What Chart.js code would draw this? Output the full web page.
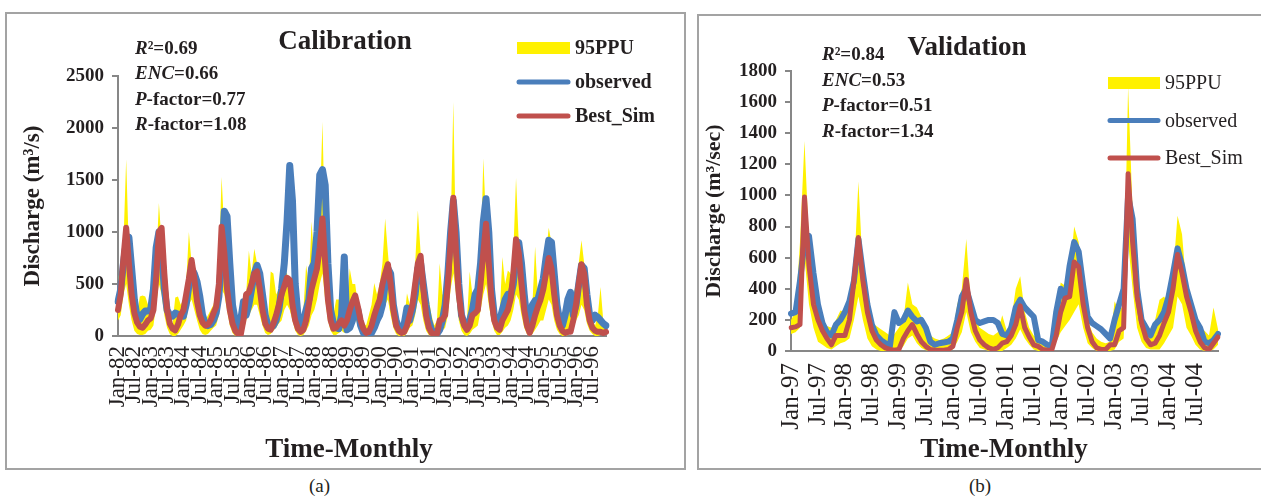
<!DOCTYPE html>
<html>
<head>
<meta charset="utf-8">
<script src="https://cdn.jsdelivr.net/npm/chart.js@4.4.1/dist/chart.umd.min.js"></script>
<style>
  body { margin: 0; background: #fff; width: 1261px; height: 500px; overflow: hidden; position: relative; font-family: "Liberation Serif", serif; }
  .panel { position: absolute; border: 2px solid #a3a3a3; box-sizing: border-box; }
  #pa { left: 5px; top: 12px; width: 681px; height: 458px; }
  #pb { left: 697px; top: 14px; width: 575px; height: 456px; }
  canvas { position: absolute; left: 0; top: 0; }
  .cap { position: absolute; top: 475px; font-size: 19px; color: #231f20; }
</style>
</head>
<body>
<div class="panel" id="pa"><canvas id="ca" width="677" height="454"></canvas></div>
<div class="panel" id="pb"><canvas id="cb" width="562" height="452"></canvas></div>
<div class="cap" style="left:309px">(a)</div>
<div class="cap" style="left:969px">(b)</div>
<script>
// months / years
const monthNames = ['Jan','Feb','Mar','Apr','May','Jun','Jul','Aug','Sep','Oct','Nov','Dec'];
const tickMonths = ['Jan','Jul'];
const yearsA = ['82','83','84','85','86','87','88','89','90','91','92','93','94','95','96'];
const yearsB = ['97','98','99','00','01','02','03','04'];
const monthsA = yearsA.flatMap(y => monthNames.map(m => m + '-' + y));
const monthsB = yearsB.flatMap(y => monthNames.map(m => m + '-' + y));

const yTicksA = [0, 500, 1000, 1500, 2000, 2500];
const yTicksB = [0, 200, 400, 600, 800, 1000, 1200, 1400, 1600, 1800];

// Calibration 1982-1996 (m3/s), one row per year
const observedA = [
  330, 450, 700, 900, 950, 650, 350, 180, 160, 210, 240, 240,
  260, 450, 850, 1000, 800, 450, 250, 200, 190, 220, 210, 200,
  190, 300, 480, 650, 600, 520, 380, 200, 120, 100, 110, 150,
  220, 380, 750, 1200, 1150, 700, 300, 150, 80, 150, 330, 200,
  300, 450, 600, 680, 600, 400, 200, 100, 80, 100, 150, 250,
  450, 700, 1100, 1640, 1300, 500, 200, 100, 150, 250, 350, 650,
  700, 1000, 1550, 1600, 1450, 700, 250, 120, 80, 70, 200, 760,
  60, 80, 150, 300, 250, 100, 30, 10, 10, 30, 80, 150,
  200, 300, 500, 650, 600, 300, 150, 80, 40, 120, 270, 150,
  250, 400, 650, 700, 500, 300, 150, 60, 30, 20, 60, 150,
  300, 600, 1000, 1300, 1000, 500, 200, 120, 100, 150, 250, 400,
  450, 700, 1100, 1320, 1000, 450, 200, 120, 150, 250, 350, 400,
  380, 500, 750, 900, 700, 400, 150, 60, 300, 340, 350, 450,
  550, 750, 920, 900, 600, 300, 150, 100, 200, 350, 420, 200,
  300, 500, 680, 650, 400, 200, 150, 200, 180, 150, 120, 100
];
const bestSimA = [
  250, 400, 750, 1040, 700, 400, 220, 130, 90, 80, 110, 150,
  170, 250, 550, 1000, 1040, 600, 250, 120, 70, 55, 110, 200,
  250, 400, 550, 730, 550, 330, 200, 130, 100, 110, 150, 220,
  280, 500, 1050, 800, 450, 250, 120, 50, 20, 10, 150, 400,
  420, 500, 600, 620, 450, 250, 120, 70, 60, 120, 200, 300,
  400, 480, 560, 540, 300, 150, 70, 40, 60, 150, 300, 450,
  550, 650, 850, 1130, 700, 350, 150, 70, 80, 120, 150, 100,
  150, 250, 330, 390, 280, 150, 70, 30, 40, 100, 200, 280,
  350, 500, 600, 690, 500, 250, 100, 50, 30, 40, 100, 200,
  300, 500, 700, 770, 450, 200, 80, 30, 10, 20, 150, 160,
  200, 500, 900, 1330, 800, 400, 200, 100, 60, 100, 200, 220,
  250, 500, 800, 1080, 700, 350, 150, 80, 60, 150, 200, 250,
  350, 600, 930, 800, 500, 250, 100, 30, 100, 200, 280, 350,
  450, 600, 750, 650, 400, 200, 100, 50, 30, 40, 40, 150,
  300, 500, 690, 600, 300, 150, 80, 50, 40, 40, 30, 40
];
const upperA = [
  590, 450, 900, 1700, 800, 400, 250, 200, 380, 390, 380, 300,
  300, 400, 700, 1280, 900, 500, 250, 150, 120, 370, 380, 300,
  350, 500, 1000, 700, 500, 450, 500, 300, 150, 200, 250, 300,
  400, 700, 1530, 1000, 900, 400, 200, 100, 80, 200, 300, 400,
  820, 600, 840, 700, 500, 300, 150, 120, 620, 600, 400, 450,
  500, 620, 600, 450, 300, 200, 120, 120, 250, 680, 500, 1100,
  700, 900, 1200, 2060, 900, 500, 300, 200, 350, 350, 300, 250,
  300, 650, 500, 500, 300, 200, 120, 100, 200, 300, 510, 400,
  500, 700, 1130, 800, 500, 300, 150, 100, 100, 150, 410, 300,
  400, 700, 1210, 800, 500, 400, 350, 200, 100, 150, 700, 400,
  400, 800, 1000, 2250, 800, 500, 300, 200, 150, 620, 400, 350,
  400, 700, 1710, 1100, 800, 500, 300, 200, 200, 760, 500, 630,
  600, 800, 1520, 900, 600, 400, 200, 100, 300, 860, 400, 500,
  600, 800, 1040, 900, 600, 400, 200, 150, 320, 300, 300, 400,
  500, 700, 920, 700, 500, 300, 150, 100, 200, 470, 150, 80
];
const lowerA = [
  150, 200, 400, 500, 300, 150, 50, 20, 10, 10, 20, 50,
  60, 100, 300, 500, 400, 200, 80, 20, 0, 0, 20, 60,
  100, 150, 300, 350, 250, 150, 60, 20, 10, 20, 50, 80,
  100, 200, 450, 400, 250, 100, 30, 0, 0, 0, 40, 150,
  200, 250, 300, 300, 200, 100, 30, 10, 20, 50, 80, 120,
  150, 250, 300, 250, 150, 50, 10, 0, 10, 50, 100, 200,
  250, 350, 500, 600, 350, 150, 50, 10, 10, 30, 50, 30,
  50, 80, 150, 180, 100, 50, 10, 0, 0, 20, 50, 100,
  150, 200, 300, 350, 200, 80, 20, 0, 0, 0, 30, 80,
  100, 200, 350, 300, 150, 50, 10, 0, 0, 0, 30, 50,
  80, 200, 450, 600, 400, 150, 50, 10, 0, 20, 60, 80,
  100, 250, 400, 500, 300, 150, 50, 10, 10, 40, 80, 100,
  150, 250, 400, 350, 200, 80, 20, 0, 20, 60, 100, 150,
  150, 250, 350, 300, 150, 60, 20, 0, 0, 10, 30, 80,
  150, 200, 300, 250, 120, 50, 20, 0, 0, 10, 10, 10
];

// Validation 1997-2004 (m3/sec)
const observedB = [
  240, 250, 450, 700, 740, 500, 300, 180, 120, 100, 170, 200,
  250, 320, 450, 720, 500, 300, 170, 100, 70, 50, 30, 250,
  180, 200, 260, 220, 190, 200, 150, 60, 40, 50, 55, 60,
  80, 200, 350, 400, 300, 200, 180, 190, 200, 200, 180, 110,
  100, 150, 280, 330, 280, 250, 220, 70, 60, 40, 30, 250,
  400, 340, 550, 700, 640, 420, 220, 180, 160, 140, 110, 80,
  200, 300, 400, 1000, 850, 400, 200, 150, 100, 170, 200, 250,
  350, 500, 660, 550, 400, 300, 200, 150, 60, 50, 70, 110
];
const bestSimB = [
  150, 155, 170, 990, 550, 300, 200, 130, 80, 40, 100, 100,
  100, 200, 450, 730, 450, 250, 130, 70, 40, 20, 10, 5,
  10, 80, 130, 170, 110, 60, 30, 10, 5, 5, 5, 10,
  30, 150, 250, 460, 250, 130, 70, 40, 20, 10, 20, 50,
  60, 100, 170, 290, 150, 90, 40, 30, 10, 5, 5, 100,
  250, 340, 350, 572, 540, 300, 150, 60, 20, 10, 10, 40,
  40, 130, 150, 1140, 700, 350, 180, 80, 40, 50, 100, 180,
  250, 400, 620, 500, 350, 250, 130, 60, 20, 10, 50, 90
];
const upperB = [
  200, 250, 700, 1350, 700, 400, 200, 180, 160, 150, 200, 260,
  250, 270, 500, 1090, 500, 300, 180, 160, 140, 120, 100, 110,
  150, 200, 440, 300, 280, 220, 150, 100, 80, 70, 80, 100,
  120, 300, 400, 720, 300, 200, 150, 130, 110, 100, 120, 230,
  130, 200, 400, 480, 250, 150, 100, 80, 50, 40, 60, 200,
  440, 420, 500, 800, 700, 400, 200, 120, 80, 60, 50, 60,
  320, 250, 300, 1700, 900, 400, 200, 150, 120, 200, 330, 350,
  300, 500, 870, 750, 400, 300, 200, 150, 130, 100, 280, 140
];
const lowerB = [
  110, 120, 150, 600, 300, 150, 60, 40, 20, 10, 30, 50,
  60, 80, 200, 350, 200, 80, 30, 10, 0, 0, 0, 0,
  0, 30, 80, 100, 50, 20, 5, 0, 0, 0, 0, 0,
  10, 60, 120, 250, 120, 60, 20, 10, 0, 0, 0, 0,
  20, 40, 80, 140, 80, 40, 10, 0, 0, 0, 0, 60,
  120, 160, 200, 250, 300, 150, 50, 20, 0, 0, 0, 0,
  10, 60, 80, 700, 400, 150, 60, 20, 10, 10, 10, 50,
  100, 150, 350, 300, 150, 100, 40, 10, 0, 0, 10, 40
];

const YELLOW = '#FFF100';
const BLUE = '#4A7EBB';
const RED = '#C0504D';
const INK = '#231f20';
const AXIS = '#878787';
const SERIF = '"Liberation Serif", "Times New Roman", serif';

Chart.defaults.font.family = SERIF;
Chart.defaults.color = INK;

// title, x title, stats text and legend drawn over the chart
const panelText = {
  id: 'panelText',
  afterDraw(chart, args, o) {
    const ctx = chart.ctx;
    ctx.save();
    ctx.fillStyle = INK;
    ctx.textBaseline = 'middle';
    ctx.textAlign = 'center';
    ctx.font = 'bold ' + o.titleSize + 'px ' + SERIF;
    ctx.fillText(o.title, o.titleX, o.titleY);
    ctx.font = 'bold 27px ' + SERIF;
    ctx.fillText('Time-Monthly', o.xTitleX, o.xTitleY);

    ctx.textAlign = 'left';
    o.stats.forEach((line, i) => {
      let x = o.statsX;
      const y = o.statsY + i * o.statsGap;
      line.forEach(seg => {
        ctx.font = (seg.it ? 'italic ' : '') + 'bold ' + o.statsSize + 'px ' + SERIF;
        ctx.fillText(seg.t, x, y);
        x += ctx.measureText(seg.t).width;
      });
    });

    const ds = chart.data.datasets;
    ctx.font = o.legendFont;
    o.legendOrder.forEach((di, i) => {
      const d = ds[di];
      const y = o.legendY + i * o.legendGap;
      if (d.fill) {
        ctx.fillStyle = d.backgroundColor;
        ctx.fillRect(o.legendX, y - 6, o.legendW, 12);
      } else {
        ctx.strokeStyle = d.borderColor;
        ctx.lineWidth = 5;
        ctx.lineCap = 'round';
        ctx.beginPath();
        ctx.moveTo(o.legendX + 2, y);
        ctx.lineTo(o.legendX + o.legendW - 2, y);
        ctx.stroke();
      }
      ctx.fillStyle = INK;
      ctx.fillText(d.label, o.legendX + o.legendW + 5, y + 1);
    });
    ctx.restore();
  }
};

function stats(r2, enc, p, r) {
  return [
    [{t: 'R', it: true}, {t: '\u00b2=' + r2}],
    [{t: 'ENC', it: true}, {t: '=' + enc}],
    [{t: 'P', it: true}, {t: '-factor=' + p}],
    [{t: 'R', it: true}, {t: '-factor=' + r}]
  ];
}

function makeChart(id, cfg) {
  new Chart(document.getElementById(id), {
    type: 'line',
    data: {
      labels: cfg.labels,
      datasets: [
        { label: 'Best_Sim', data: cfg.sim, borderColor: RED, borderWidth: cfg.lw, pointRadius: 0,
          fill: false, borderJoinStyle: 'round', borderCapStyle: 'round', tension: 0 },
        { label: 'observed', data: cfg.obs, borderColor: BLUE, borderWidth: cfg.lw + 1, pointRadius: 0,
          fill: false, borderJoinStyle: 'round', borderCapStyle: 'round', tension: 0 },
        { label: '95PPU', data: cfg.upper, borderWidth: 0, borderColor: YELLOW, backgroundColor: YELLOW,
          pointRadius: 0, fill: '+1', tension: 0 },
        { label: 'lower', data: cfg.lower, borderWidth: 0, borderColor: YELLOW, pointRadius: 0,
          fill: false, tension: 0 }
      ]
    },
    options: {
      responsive: false, animation: false, events: [],
      layout: { padding: { left: 0, top: cfg.top, right: cfg.right, bottom: 0 } },
      plugins: { legend: { display: false }, tooltip: { enabled: false }, panelText: cfg.text },
      scales: {
        x: {
          type: 'category',
          afterFit: s => { s.height = cfg.xh; },
          grid: { display: false, drawTicks: false },
          border: { display: true, color: AXIS, width: 2 },
          ticks: {
            autoSkip: false, minRotation: 90, maxRotation: 90, padding: cfg.xpad,
            font: { size: cfg.xfont }, color: INK,
            callback: function (v) {
              const lab = this.getLabelForValue(v);
              return tickMonths.includes(lab.slice(0, 3)) ? lab : null;
            }
          }
        },
        y: {
          min: 0, max: cfg.yTicks[cfg.yTicks.length - 1],
          afterFit: s => { s.width = cfg.yw; },
          afterBuildTicks: s => { s.ticks = cfg.yTicks.map(v => ({ value: v })); },
          grid: { drawOnChartArea: false, drawTicks: true, tickLength: 6, color: AXIS, lineWidth: 2 },
          border: { display: true, color: AXIS, width: 2 },
          ticks: { padding: 8, font: { size: 19, weight: 'bold' }, color: INK, callback: v => String(v) },
          title: { display: true, text: cfg.ytitle, font: { size: cfg.ytfont, weight: 'bold' }, color: INK,
            padding: { top: cfg.ytpad, bottom: 0 } }
        }
      }
    },
    plugins: [panelText]
  });
}

makeChart('ca', {
  labels: monthsA, obs: observedA, sim: bestSimA, upper: upperA, lower: lowerA,
  yTicks: yTicksA, ytitle: 'Discharge (m\u00b3/s)', ytfont: 23, lw: 6,
  top: 62, right: 78, yw: 111, xh: 132, xfont: 23, xpad: 10, ytpad: 12,
  text: {
    title: 'Calibration', titleSize: 27, titleX: 338, titleY: 28,
    xTitleX: 342, xTitleY: 436,
    stats: stats('0.69', '0.66', '0.77', '1.08'), statsX: 128, statsY: 35, statsGap: 25.5, statsSize: 19,
    legendOrder: [2, 1, 0], legendX: 510, legendY: 34, legendGap: 34, legendW: 53,
    legendFont: 'bold 20px ' + SERIF
  }
});

makeChart('cb', {
  labels: monthsB, obs: observedB, sim: bestSimB, upper: upperB, lower: lowerB,
  yTicks: yTicksB, ytitle: 'Discharge (m\u00b3/sec)', ytfont: 22, lw: 5,
  top: 55, right: 43, yw: 92, xh: 117, xfont: 25, xpad: 12, ytpad: 2,
  text: {
    title: 'Validation', titleSize: 27, titleX: 268, titleY: 32,
    xTitleX: 305, xTitleY: 434,
    stats: stats('0.84', '0.53', '0.51', '1.34'), statsX: 123, statsY: 39, statsGap: 25.7, statsSize: 19,
    legendOrder: [2, 1, 0], legendX: 409, legendY: 67, legendGap: 37.5, legendW: 52,
    legendFont: '20px ' + SERIF
  }
});
</script>
</body>
</html>
